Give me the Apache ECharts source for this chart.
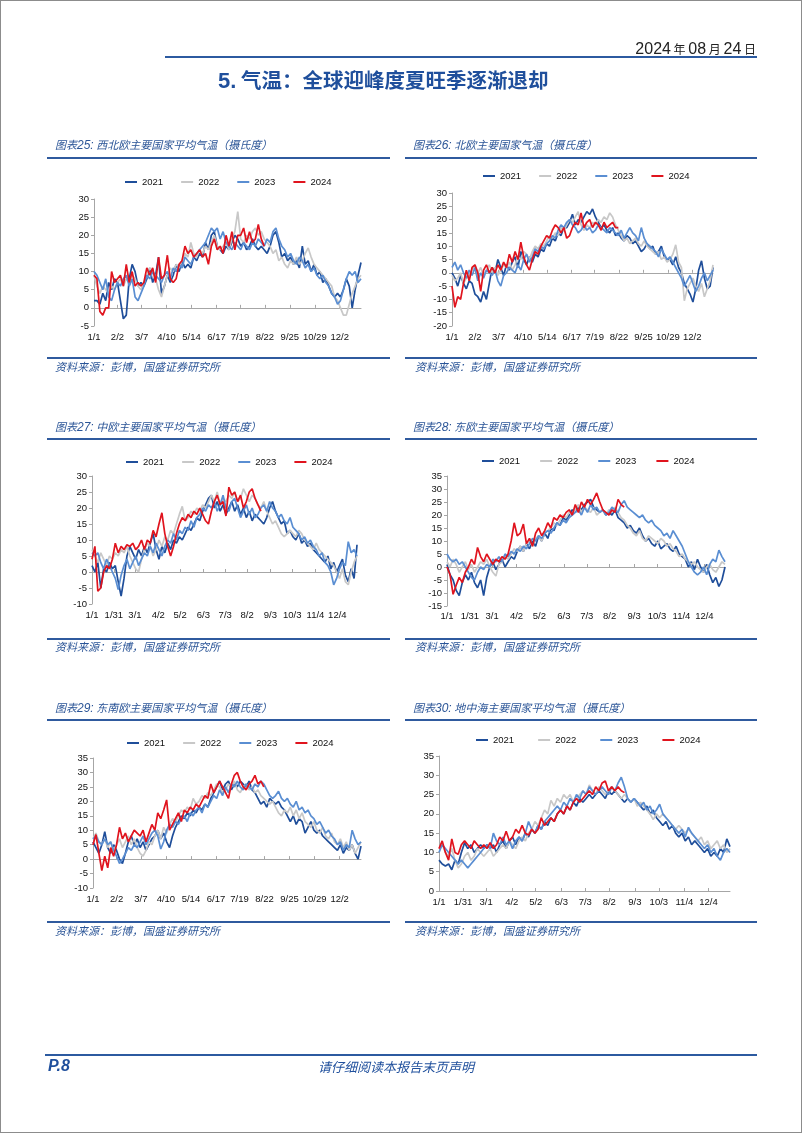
<!DOCTYPE html>
<html>
<head>
<meta charset="utf-8">
<script src="https://cdn.jsdelivr.net/npm/echarts/dist/echarts.min.js"></script>
<style>
html,body{margin:0;padding:0;background:#fff;}
#page{position:relative;width:802px;height:1133px;background:#fff;overflow:hidden;font-family:"Noto Sans CJK SC","Noto Sans",sans-serif;}
#frame{position:absolute;left:0;top:0;width:802px;height:1133px;box-sizing:border-box;border:1px solid #8c8c8c;pointer-events:none;z-index:5;}
#chart{position:absolute;left:0;top:0;width:802px;height:1133px;z-index:2;}
.t{position:absolute;white-space:pre;line-height:1;z-index:3;}
.ln{position:absolute;background:#2f5a9e;z-index:3;}
.ct{font-style:italic;font-size:11px;color:#2b5597;}
.src{font-style:italic;font-size:11px;color:#2b5597;}
</style>
</head>
<body>
<div id="page">
  <div id="chart"></div>
  <div class="t" style="right:46px;top:39px;color:#222;"><span style="font-family:'Liberation Sans';font-size:16px;">2024</span><span style="font-size:12px;"> 年 </span><span style="font-family:'Liberation Sans';font-size:16px;">08</span><span style="font-size:12px;"> 月 </span><span style="font-family:'Liberation Sans';font-size:16px;">24</span><span style="font-size:12px;"> 日</span></div>
  <div class="ln" style="left:165px;top:56px;width:592px;height:2px;background:#2c5aa0;"></div>
  <div class="t" style="left:218px;top:69px;font-size:20.5px;font-weight:bold;color:#1f4f9c;"><span style="font-family:'Liberation Sans';font-size:22px;">5.</span> 气温：全球迎峰度夏旺季逐渐退却</div>

  <div class="t ct" style="left:55px;top:139px;">图表<span style="font-family:'Liberation Sans';font-size:12px;">25:</span> 西北欧主要国家平均气温（摄氏度）</div>
  <div class="t ct" style="left:413px;top:139px;">图表<span style="font-family:'Liberation Sans';font-size:12px;">26:</span> 北欧主要国家气温（摄氏度）</div>
  <div class="ln" style="left:47px;top:157px;width:343px;height:2px;"></div>
  <div class="ln" style="left:405px;top:157px;width:352px;height:2px;"></div>
  <div class="ln" style="left:47px;top:357px;width:343px;height:2px;"></div>
  <div class="ln" style="left:405px;top:357px;width:352px;height:2px;"></div>
  <div class="t src" style="left:55px;top:361px;">资料来源：彭博，国盛证券研究所</div>
  <div class="t src" style="left:415px;top:361px;">资料来源：彭博，国盛证券研究所</div>

  <div class="t ct" style="left:55px;top:421px;">图表<span style="font-family:'Liberation Sans';font-size:12px;">27:</span> 中欧主要国家平均气温（摄氏度）</div>
  <div class="t ct" style="left:413px;top:421px;">图表<span style="font-family:'Liberation Sans';font-size:12px;">28:</span> 东欧主要国家平均气温（摄氏度）</div>
  <div class="ln" style="left:47px;top:438px;width:343px;height:2px;"></div>
  <div class="ln" style="left:405px;top:438px;width:352px;height:2px;"></div>
  <div class="ln" style="left:47px;top:638px;width:343px;height:2px;"></div>
  <div class="ln" style="left:405px;top:638px;width:352px;height:2px;"></div>
  <div class="t src" style="left:55px;top:641px;">资料来源：彭博，国盛证券研究所</div>
  <div class="t src" style="left:415px;top:641px;">资料来源：彭博，国盛证券研究所</div>

  <div class="t ct" style="left:55px;top:702px;">图表<span style="font-family:'Liberation Sans';font-size:12px;">29:</span> 东南欧主要国家平均气温（摄氏度）</div>
  <div class="t ct" style="left:413px;top:702px;">图表<span style="font-family:'Liberation Sans';font-size:12px;">30:</span> 地中海主要国家平均气温（摄氏度）</div>
  <div class="ln" style="left:47px;top:719px;width:343px;height:2px;"></div>
  <div class="ln" style="left:405px;top:719px;width:352px;height:2px;"></div>
  <div class="ln" style="left:47px;top:921px;width:343px;height:2px;"></div>
  <div class="ln" style="left:405px;top:921px;width:352px;height:2px;"></div>
  <div class="t src" style="left:55px;top:925px;">资料来源：彭博，国盛证券研究所</div>
  <div class="t src" style="left:415px;top:925px;">资料来源：彭博，国盛证券研究所</div>

  <div class="ln" style="left:45px;top:1054px;width:712px;height:2px;background:#2c5aa0;"></div>
  <div class="t" style="left:48px;top:1058px;font-family:'Liberation Sans';font-weight:bold;font-style:italic;font-size:16px;color:#1f4f9c;">P.8</div>
  <div class="t" style="left:318px;top:1060px;font-style:italic;font-size:13px;color:#1f4f9c;">请仔细阅读本报告末页声明</div>
  <div id="frame"></div>
</div>
<script>
// ---- data (°C), one value every STEP days starting 1/1 ----
const STEP = 4;
const years = ['2021', '2022', '2023', '2024'];
const colors = ['#1f4e9a', '#c8c8c8', '#5a8ed2', '#e0141e'];
const ticksA = ['1/1','2/2','3/7','4/10','5/14','6/17','7/19','8/22','9/25','10/29','12/2'];
const ticksB = ['1/1','1/31','3/1','4/2','5/2','6/3','7/3','8/2','9/3','10/3','11/4','12/4'];

// 图表25 西北欧
const nw2021 = [2,2,1,4,2,7,5,8,7,2, -3,-2,8,12,10,6,7,6,8,11, 7,9,14,4,6,9,7,9,12,10, 13,11,12,11,14,13,15,14,18,16, 20,21,17,16,15,17,16,18,20,19, 17,18,16,17,19,17,16,17,16,15, 17,20,21,18,14,15,13,14,12,13, 11,17,12,13,10,12,9,10,7,8, 6,4,3,4,3,5,8,6,0,5, 9,12.5];
const nw2022 = [9,6,4,6,5,4,6,5,7,8, 6,8,7,9,8,6,5,7,9,11, 10,8,5,3,6,9,11,10,12,11, 13,15,14,18,15,14,16,15,17,16, 18,20,17,16,17,18,16,19,21,26.5, 19,18,20,19,21,22,20,21,19,18, 17,15,16,13,14,12,11,13,12,14, 12,13,15,16.5,14,12,11,10,9,8, 7,6,3,2,0,-2,-2,1,4,6, 8,9];
const nw2023 = [10,9,7,5,8,3,2,5,7,6, 8,9,6,8,3,2,4,6,9,8, 10,9,8,7,9,10,8,11,10,12, 11,14,13,12,14,15,16,17,18,20, 22,21,22,19,21,18,17,16,18,17, 16,18,17,16,18,17,19,18,17,19, 18,21,22,19,17,16,14,15,13,12, 14,13,11,12,10,11,9,8,9,7, 6,4,3,1,2,5,8,10,9,10, 7,8];
const nw2024 = [9,8,-1,-2,0,0,10,7,8,9, 6,12,7,10,6,7,6,7,11,9, 11,7,14,8,9,14.5,8,7,8,12, 13,17,15,16,14,15,16,14,15,12, 17,19,16,17,15,20,17,21,16,20, 20,22,18,21,18,19,23,19,17];

// 图表26 北欧
const no2021 = [0,-2,-5,-1,-4,-6,-3,-4,-8,-9, -11,-7,-10,-4,2,0,5,2,-1,3, 1,4,6,2,8,5,3,6,4,7, 6,9,8,11,10,13,12,15,14,17, 17,19,22,18,20,19,21,23,22,24, 21,19,17,18,16,15,17,14,15,13, 12,14,13,11,12,10,8,9,11,9, 10,7,8,10,6,5,5,3,6,2, 0,-4,-6,-8,-11,-6,1,4.5,-2,-6, -5,2];
const no2022 = [-1,-3,-2,0,-4,-2,-1,1,3,0, 2,-1,1,3,0,2,-1,1,3,2, 4,1,3,6,5,8,7,5,8,10, 9,11,10,12,14,13,15,14,17,16, 18,20,19,21,23,18,16,18,17,19, 18,20,19,21,20,22.5,21,18,16,14, 12,13,11,12,13,11,10,12,10,9, 8,7,8,5,6,4,5,7,10.5,4, 2,-10.5,-6,-4,-2,-5,-7,-4,-9,-6, -3,3];
const no2023 = [2,4,1,3,0,-2,1,-1,2,-3, 0,-2,1,0,-1,1,-3,-5,-1,0, 2,1,0,3,1,5,7,4,6,9, 8,10,9,11,12,14,13,16,18,17, 19,20,18,17,15,16,18,16,17,15, 16,18,17,16,15,17,16,15,14,16, 13,15,17,15,14,12,17,13,11,10, 9,8,6,9,7,5,6,4,2,0, -2,-5,-3,-1,-4,-7,-5,-2,0,-3, -1,1];
const no2024 = [-5,-13,-9,-10,-4,1,-3,2,3,0, -7,1,3,0,2,0,3,1,4,2, 7,4,8,5,11.5,6,3,1,5,8, 7,10,12,14,13,16,18,17,15,17, 13,14,17,19,18,22.5,17,19,20,17, 19,18,16,19,17,18,19,17,17];

// 图表27 中欧
const ce2021 = [2,0,3,-5,1,0,3,1,2,-3, -7.5,-2,5,8,6,4,7,5,8,6, 9,12,7,4,8,6,9,7,10,9, 11,10,12,14,13,15,17,16,19,21, 23,24,20,22,19,21,18,20,22,19, 21,18,20,17,19,16,18,17,16,15, 17,20,22,19,17,15,16,12,13,11, 10,12,9,10,8,9,7,6,5,4, 3,5,1,3,0,2,4,-1,-3,1, -2,8.5];
const ce2022 = [7,5,3,6,4,2,5,4,6,5, 7,6,8,5,3,1,0,4,7,9, 8,5,7,10,8,11,10,13,12,15, 18,20.5,16,17,19,18,20,19,21,20, 22,24,22,25,21,23,22,24,23,25, 22,23,26,24,22,24,23,21,20,22, 19,17,15,16,14,12,11,12,13,12, 11,13,12,10,9,8,7,9,7,6, 5,4,3,2,0,-2,1,-3,-4,0, 3,5];
const ce2023 = [6,5,6,3,1,4,2,0,-2,-5.5, -1,2,4,1,3,5,2,4,6,5, 8,6,9,7,5,8,10,9,12,10, 13,12,14,13,16,14,17,18,20,19, 21,20,22,19,21,24,20,19,22,23, 20,17,19,21,18,20,17,18,20,21, 19,22,20,19,17,18,16,15,17,14, 13,12,10,11,9,10,8,7,5,6, 3,2,0,-4,-2,1,3,2,9.5,6, 7,5];
const ce2024 = [4,8,-6,-5,0,2,1,4,9,6, 8,7,8.5,8,9,7,8,10,7,10, 9,13,11,15,18.5,12,8,5,8,12, 15,17,16,18,17,19,18,20,18,16, 15,19,22,24,21,22,17.5,26.5,24,25, 22,24,20,22,25,26,23,21,19];

// 图表28 东欧
const ee2021 = [1,-3,-5,-9,-11,-6,-3,-5,-2,-6, -8,-5,-11,-4,0,2,-1,1,3,0, 2,4,3,6,8,6,9,7,10,8, 12,10,13,11,15,14,17,16,19,18, 20,22,21,23,22,24,25,26,23,22, 21,22,20,21,20,22,19,18,17,15, 16,14,13,15,12,10,11,9,8,10, 7,8,9,7,6,8,5,4,3,0, 2,-1,3,0,-2,1,-3,-6,-4,-7.5, -5,0];
const ee2022 = [2,0,3,1,-2,0,2,-1,1,-2, 0,2,1,3,0,-2,-3.5,1,2,4, 3,5,7,6,8,6,9,10,8,11, 12,10,13,14,15,17,16,18,20,19, 21,20,22,24,21,23,22,21,23,20, 21,22,20,22,21,23,21,19,18,16, 15,13,12,14,11,10,12,11,10,9, 11,10,8,9,7,6,4,5,3,2, 1,2,0,-1,-2,0,1,-1,-2,0, 2,1];
const ee2023 = [5,3,2,3,1,2,0,-2,-4,-5, -2,0,-1,1,0,3,2,4,2,5, 4,6,5,7,6,8,7,9,11,10, 12,11,13,14,13,15,17,16,18,17, 19,20,21,22,20,23,21,24,22,23, 21,22,20,21,23,22,21,24,25.5,23, 22,21,20,19,20,18,17,18,16,15, 14,12,13,11,14,12,10,8,5,2, 0,-2,-3,-2,0,-3,1,3,2,6.5, 4,2];
const ee2024 = [0,-3,-10.5,-7,-4,-6,-2,0,3,1, 7.5,4,2,5,3,1,3,2,4,3, 5,10,17,12,13,16.5,9,11,8,13, 15,12,14,17,15,19,18,20,19,21, 22,20,24,21,25,23,26,24,26,28.5, 25,22,21,20,22,21,26,24,23];

// 图表29 东南欧
const se2021 = [6,4,2,5,9.5,4,2,5,3,0, -1.5,2,6,8,5,7,4,6,3,5, 7,8,10,7,9,6,4,8,11,13, 15,14,16,15,17,16,18,17,19,18, 21,23,25,27,24,26,27,24,26,25, 27,26,25,27,24,23,21,19,20,18, 21,20,19,20,18,17,15,13,15,12, 14,13,9,11,13,10,9,10,8,7, 6,5,4,3,5,2,4,3,5,2, 0,4.5];
const se2022 = [7,9,6,5,7,4,6,3,5,7, 4,6,8,5,7,4,2,1,3,6, 5,8,10,7,11,9,12,14,13,15, 17,16,18,17,21,19,20,22,21,23, 22,24,26,25,23,24,26,25,27,24, 23,25,26,24,25,23,24,22,21,20, 19,20,18,16,15,17,16,18,15,17, 14,16,13,12,11,13,10,9,11,8, 7,9,6,5,7,4,6,3,5,2, 4,6];
const se2023 = [7,8,6,5,7,5,6,3,1,-1.5, 0,2,4,3,5,4,6,8,5,7, 9,10,8,3.5,6,10,12,11,13,12, 14,15,13,16,15,17,18,16,19,18, 20,22,21,24,22,25,23,26,25,27, 25,24,26,25,24,26,25,27,26,24, 22,21,22,23.5,21,20,21,19,18,20, 17,18,16,17,15,14,12,13,11,9, 10,8,7,5,6,3,5,4,10,7, 5,6];
const se2024 = [5,8.5,2,-4,1,-3,4,1,5,11, 7,9,6,8,10,9,8,10,6,9, 12,10,16,14,17,20.5,10,12,14,16, 13,17,16,18,17,19,18,20,22,21, 26,23,25,27,25,23,21,26,29,30, 27,25,24,26,27,29,26,27,25];

// 图表30 地中海
const md2021 = [8,7,6.5,7,5.5,8,7,10,12.5,11, 12,10,11,12,11,12,11,12,10,12, 13,11,13,14,12,14,13,15,14,16, 15,17,16,18,17,19,18,20,21,20, 22,21,23,22,24,23,24,25,24,25, 26,25,24,26,25,26,25,24,23,24, 23,24,23,22,21,22,20,21,19,18, 17,18,16,17,15,14,15,13,14,12, 13,12,11,10,11,9,10,9,11,10, 13.5,11.5];
const md2022 = [11,12,10,9,11,8,6,7,9,10, 8,9,11,10,9,10,11,9,10,11, 12,11,13,12,11,13,14,13,15,16, 18,17,19,21,20,23.5,22,24,23,25, 24,25,23,24,25,26,25,27.5,26,25, 27,26,25,26,27,26,25,24,25,24, 23,24,22,23,22,21,20,18.5,20,19, 20,19,18,17,16,17,16,15,16,15, 14,13,14,12,13,11,12,13,11,12, 10,11];
const md2023 = [10,12,11,10,9,8,7,8,7,6, 7,8,9,10,11,12,11,15,13,12, 14,12,13,11,13,14,13,15,18,16, 15,17,16,18,19,20,21,22,21,23, 22,24,23,25,24,26,25,27,26,25, 26,27,26,25,27,26,28,29.5,27,24, 23,24,23,22,23,21,22,20,21,22.5, 20,19,18,17,16,15,16,14,16.5,15, 14,13,12,11,12,10,11,9,8,10, 11,10];
const md2024 = [11,13,10,8,13.5,10,9.5,12,13,12, 11,13,12,11,12,11,12.5,11,12,14, 13,15.5,13,14,16,15,17,15,14.5,16, 15,16,19,17,18,19,18,20,21,20, 22,21,23,24,23,24,25,26,25,27, 26,28,28.5,26,27,26,27,26,25.5];

// ---- build ----
const monthLen = [31,28,31,30,31,30,31,31,30,31,30,31];
const days = [];
monthLen.forEach((n, m) => { for (let d = 1; d <= n; d++) days.push((m + 1) + '/' + d); });

function expand(vals) {
  const out = new Array(days.length).fill(null);
  vals.forEach((v, i) => { if (i * STEP < days.length) out[i * STEP] = v; });
  return out;
}

const panels = [
  { data: [nw2021, nw2022, nw2023, nw2024], ticks: ticksA, min: -5, max: 30,
    grid: { left: 94, top: 199, width: 267, height: 127 }, leg: { left: 125, top: 177, gap: 18 }, lm: 6 },
  { data: [no2021, no2022, no2023, no2024], ticks: ticksA, min: -20, max: 30,
    grid: { left: 452, top: 193, width: 261, height: 133 }, leg: { left: 483, top: 171, gap: 18 }, lm: 6 },
  { data: [ce2021, ce2022, ce2023, ce2024], ticks: ticksB, min: -10, max: 30,
    grid: { left: 92, top: 476, width: 265, height: 128 }, leg: { left: 126, top: 457, gap: 18 }, lm: 6 },
  { data: [ee2021, ee2022, ee2023, ee2024], ticks: ticksB, min: -15, max: 35,
    grid: { left: 447, top: 476, width: 278, height: 130 }, leg: { left: 482, top: 456, gap: 20 }, lm: 5 },
  { data: [se2021, se2022, se2023, se2024], ticks: ticksA, min: -10, max: 35,
    grid: { left: 93, top: 758, width: 268, height: 130 }, leg: { left: 127, top: 738, gap: 18 }, lm: 6 },
  { data: [md2021, md2022, md2023, md2024], ticks: ticksB, min: 0, max: 35,
    grid: { left: 439, top: 756, width: 291, height: 135 }, leg: { left: 476, top: 735, gap: 24 }, lm: 6 }
];

const FONT = 'Liberation Sans';
const axisGray = '#a6a6a6';
const option = { animation: false, grid: [], xAxis: [], yAxis: [], legend: [], series: [] };

panels.forEach((p, i) => {
  const tickSet = new Set(p.ticks);
  const pick = (idx, val) => tickSet.has(val);
  option.grid.push(Object.assign({ containLabel: false }, p.grid));
  option.xAxis.push({
    type: 'category', gridIndex: i, data: days, boundaryGap: false, position: 'bottom',
    axisLine: { show: false, onZero: false }, axisTick: { show: false }, splitLine: { show: false },
    axisLabel: { interval: pick, fontSize: 9.5, color: '#111', fontFamily: FONT, margin: p.lm }
  });
  option.xAxis.push({
    type: 'category', gridIndex: i, data: days, boundaryGap: false, position: 'bottom',
    axisLine: { show: true, onZero: true, lineStyle: { color: axisGray, width: 1 } },
    axisTick: { show: true, inside: true, length: 3, interval: pick, lineStyle: { color: axisGray } },
    axisLabel: { show: false }, splitLine: { show: false }
  });
  option.yAxis.push({
    type: 'value', gridIndex: i, min: p.min, max: p.max, interval: 5,
    axisLine: { show: true, lineStyle: { color: axisGray, width: 1 } },
    axisTick: { show: true, length: 3, lineStyle: { color: axisGray } },
    splitLine: { show: false },
    axisLabel: { fontSize: 9.5, color: '#111', fontFamily: FONT, margin: 5 }
  });
  option.legend.push({
    data: years, left: p.leg.left, top: p.leg.top, itemWidth: 12, itemHeight: 2, itemGap: p.leg.gap,
    icon: 'rect', selectedMode: false, padding: 0,
    textStyle: { fontSize: 9.5, color: '#111', fontFamily: FONT }
  });
  p.data.forEach((vals, j) => {
    option.series.push({
      type: 'line', name: years[j], xAxisIndex: 2 * i, yAxisIndex: i,
      data: expand(vals), connectNulls: true, showSymbol: false, symbol: 'none',
      lineStyle: { width: 1.7, color: colors[j] }, itemStyle: { color: colors[j] },
      z: 2 + j, silent: true
    });
  });
});

const chart = echarts.init(document.getElementById('chart'), null, { renderer: 'canvas' });
chart.setOption(option);
</script>
</body>
</html>
